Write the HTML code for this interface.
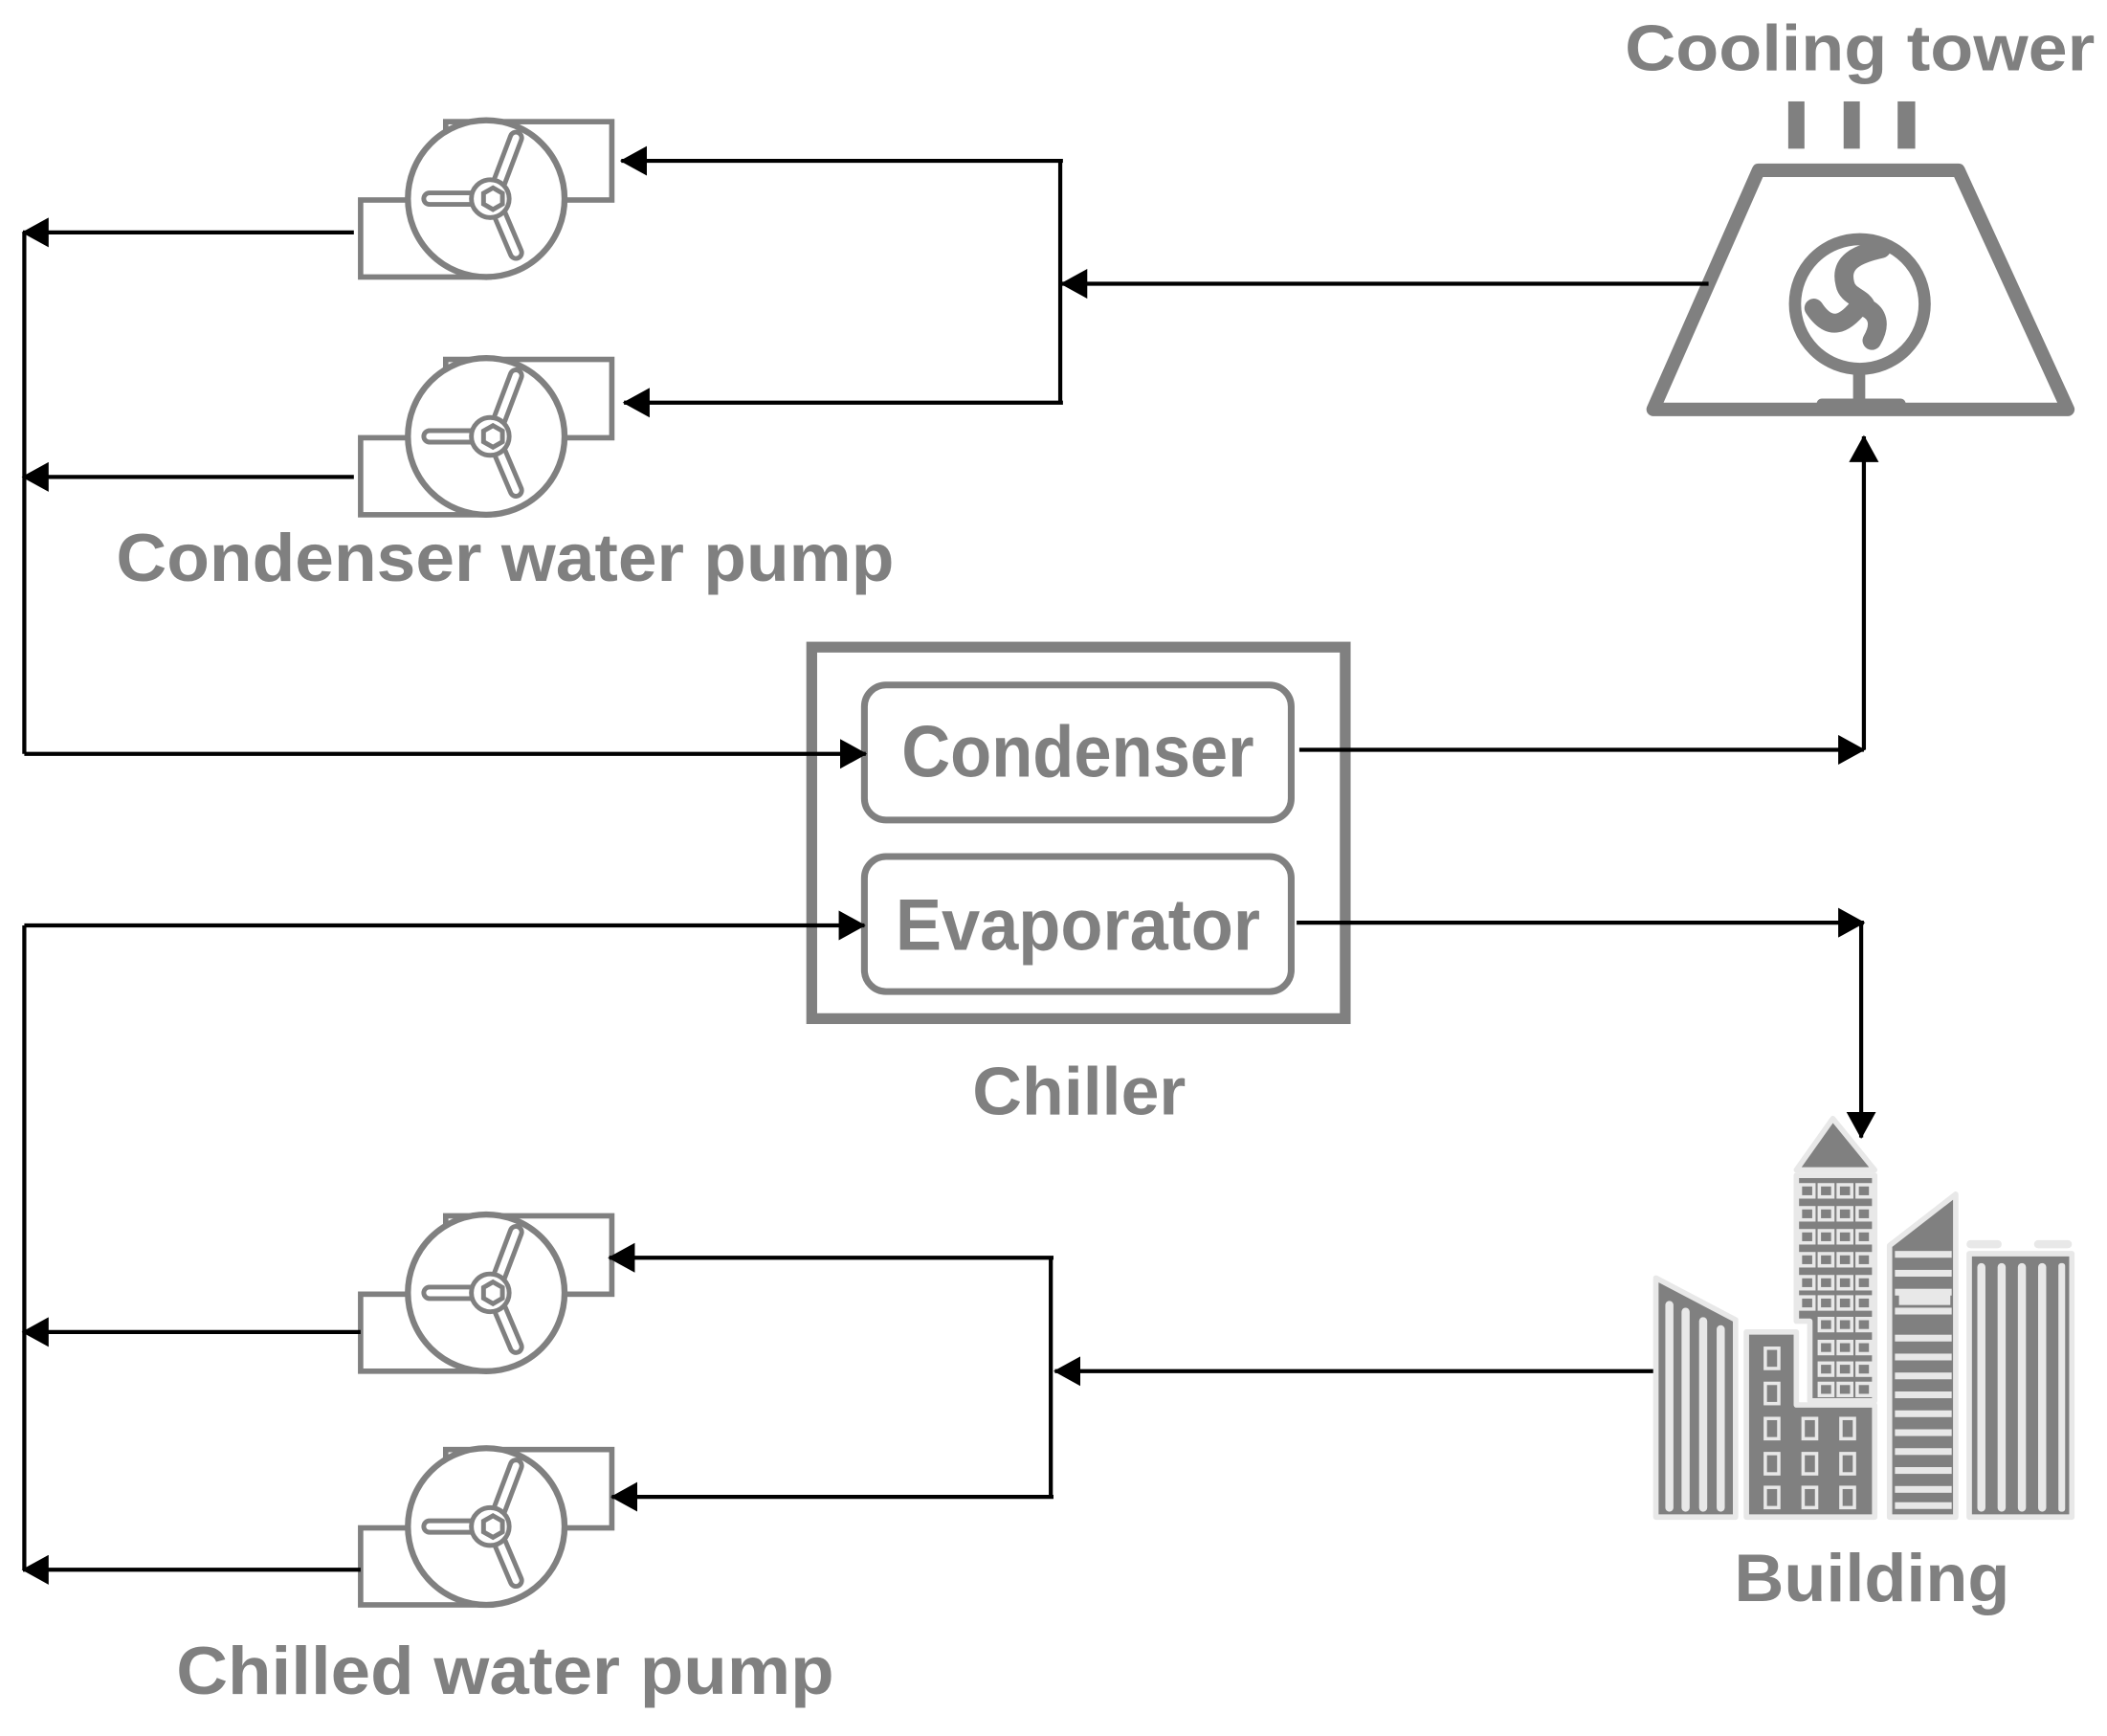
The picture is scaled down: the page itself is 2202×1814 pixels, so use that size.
<!DOCTYPE html>
<html><head><meta charset="utf-8"><style>
html,body{margin:0;padding:0;background:#fff;}
svg{display:block;}
text{font-family:"Liberation Sans",sans-serif;font-weight:bold;fill:#808080;}
</style></head><body>
<svg width="2202" height="1814" viewBox="0 0 1560 1285" xmlns="http://www.w3.org/2000/svg">
<defs>
<g id="pump">
  <rect x="330" y="-57" width="123" height="58" fill="#fff" stroke="#808080" stroke-width="4"/>
  <rect x="267" y="1" width="95" height="57" fill="#fff" stroke="#808080" stroke-width="4"/>
  <ellipse cx="360" cy="0" rx="58" ry="58" fill="#fff" stroke="#808080" stroke-width="4.5"/>
  <g stroke-linecap="round">
    <line x1="365" y1="0" x2="382" y2="-45" stroke="#808080" stroke-width="12"/>
    <line x1="365" y1="0" x2="382" y2="-45" stroke="#fff" stroke-width="5"/>
    <line x1="365" y1="0" x2="382" y2="40" stroke="#808080" stroke-width="12"/>
    <line x1="365" y1="0" x2="382" y2="40" stroke="#fff" stroke-width="5"/>
    <line x1="365" y1="0" x2="318" y2="0" stroke="#808080" stroke-width="12"/>
    <line x1="365" y1="0" x2="318" y2="0" stroke="#fff" stroke-width="5"/>
  </g>
  <circle cx="363" cy="0" r="14" fill="#fff" stroke="#808080" stroke-width="3.5"/>
  <polygon points="365,-8 372,-4 372,4 365,8 358,4 358,-4" fill="#fff" stroke="#808080" stroke-width="3.5"/>
</g>
<marker id="ah" viewBox="0 0 20 22" refX="19" refY="11" markerWidth="20" markerHeight="22" markerUnits="userSpaceOnUse" orient="auto">
  <polygon points="0,0 20,11 0,22" fill="#000"/>
</marker>
</defs>

<text x="1377" y="52" font-size="48" text-anchor="middle" textLength="348" lengthAdjust="spacingAndGlyphs">Cooling tower</text>
<text x="374" y="430" font-size="50" text-anchor="middle" textLength="576" lengthAdjust="spacingAndGlyphs">Condenser water pump</text>
<text x="798" y="575" font-size="54" text-anchor="middle" textLength="261" lengthAdjust="spacingAndGlyphs">Condenser</text>
<text x="798" y="703" font-size="54" text-anchor="middle" textLength="270" lengthAdjust="spacingAndGlyphs">Evaporator</text>
<text x="799" y="825" font-size="50" text-anchor="middle" textLength="158" lengthAdjust="spacingAndGlyphs">Chiller</text>
<text x="374" y="1254" font-size="50" text-anchor="middle" textLength="487" lengthAdjust="spacingAndGlyphs">Chilled water pump</text>
<text x="1386" y="1185" font-size="50" text-anchor="middle" textLength="204" lengthAdjust="spacingAndGlyphs">Building</text>

<rect x="1324" y="75" width="12" height="35" fill="#808080"/>
<rect x="1365" y="75" width="12" height="35" fill="#808080"/>
<rect x="1405" y="75" width="13" height="35" fill="#808080"/>
<polygon points="1302,126 1450,126 1531,303 1224,303" fill="none" stroke="#808080" stroke-width="10" stroke-linejoin="round"/>
<circle cx="1377" cy="225" r="48" fill="none" stroke="#808080" stroke-width="9"/>
<path d="M1393,184 C1375,188 1362,194 1366,210 C1368,220 1380,220 1382,228 C1390,232 1393,240 1386,252 M1343,228 C1355,246 1366,240 1377,226" fill="none" stroke="#808080" stroke-width="14" stroke-linecap="round"/>
<rect x="1372" y="273" width="9" height="25" fill="#808080"/>
<rect x="1345" y="295" width="66" height="8" rx="4" fill="#808080"/>

<use href="#pump" transform="translate(0,147)"/>
<use href="#pump" transform="translate(0,323)"/>
<use href="#pump" transform="translate(0,957)"/>
<use href="#pump" transform="translate(0,1130)"/>

<rect x="601" y="479" width="395" height="275" fill="none" stroke="#808080" stroke-width="8"/>
<rect x="640" y="507" width="316" height="100" rx="16" fill="none" stroke="#808080" stroke-width="5"/>
<rect x="640" y="634" width="316" height="100" rx="16" fill="none" stroke="#808080" stroke-width="5"/>

<g stroke="#000" stroke-width="3" fill="none">
  <line x1="1265" y1="210" x2="786" y2="210" marker-end="url(#ah)"/>
  <line x1="785" y1="120" x2="785" y2="298"/>
  <line x1="787" y1="119" x2="460" y2="119" marker-end="url(#ah)"/>
  <line x1="787" y1="298" x2="462" y2="298" marker-end="url(#ah)"/>
  <line x1="262" y1="172" x2="17" y2="172" marker-end="url(#ah)"/>
  <line x1="262" y1="353" x2="17" y2="353" marker-end="url(#ah)"/>
  <line x1="18" y1="172" x2="18" y2="558"/>
  <line x1="18" y1="558" x2="641" y2="558" marker-end="url(#ah)"/>
  <line x1="962" y1="555" x2="1380" y2="555" marker-end="url(#ah)"/>
  <line x1="1380" y1="555" x2="1380" y2="323" marker-end="url(#ah)"/>
  <line x1="960" y1="683" x2="1380" y2="683" marker-end="url(#ah)"/>
  <line x1="1378" y1="683" x2="1378" y2="842" marker-end="url(#ah)"/>
  <line x1="18" y1="685" x2="640" y2="685" marker-end="url(#ah)"/>
  <line x1="18" y1="685" x2="18" y2="1162"/>
  <line x1="267" y1="986" x2="17" y2="986" marker-end="url(#ah)"/>
  <line x1="267" y1="1162" x2="17" y2="1162" marker-end="url(#ah)"/>
  <line x1="1225" y1="1015" x2="781" y2="1015" marker-end="url(#ah)"/>
  <line x1="778" y1="931" x2="778" y2="1108"/>
  <line x1="780" y1="931" x2="451" y2="931" marker-end="url(#ah)"/>
  <line x1="780" y1="1108" x2="453" y2="1108" marker-end="url(#ah)"/>
</g>

<g stroke="#e8e8e8" stroke-width="4" fill="#808080" stroke-linejoin="round">
  <polygon points="1226,946 1285,977 1285,1123 1226,1123"/>
  <polygon points="1293,986 1330,986 1330,1040 1388,1040 1388,1123 1293,1123"/>
  <polygon points="1330,870 1388,870 1388,1037 1340,1037 1340,978 1330,978"/>
  <polygon points="1357,828 1388,866 1330,866"/>
  <polygon points="1399,922 1448,884 1448,1123 1399,1123"/>
  <polygon points="1458,928 1534,928 1534,1123 1458,1123"/>
</g>
<g fill="#e8e8e8">
  <rect x="1233" y="963" width="6" height="156" rx="3"/>
  <rect x="1245" y="968" width="6" height="151" rx="3"/>
  <rect x="1258" y="975" width="6" height="144" rx="3"/>
  <rect x="1271" y="981" width="6" height="138" rx="3"/>
  <rect x="1464" y="935" width="6" height="184" rx="3"/>
  <rect x="1479" y="935" width="6" height="184" rx="3"/>
  <rect x="1494" y="935" width="6" height="184" rx="3"/>
  <rect x="1509" y="935" width="6" height="184" rx="3"/>
  <rect x="1524" y="935" width="5" height="184" rx="2"/>
  <rect x="1456" y="918" width="26" height="6" rx="3"/>
  <rect x="1506" y="918" width="28" height="6" rx="3"/>
</g>
<g fill="#e8e8e8">
  <rect x="1403" y="926" width="42" height="5"/><rect x="1403" y="940" width="42" height="5"/>
  <rect x="1403" y="954" width="42" height="5"/><rect x="1403" y="968" width="42" height="5"/>
  <rect x="1406" y="956" width="38" height="10"/>
  <rect x="1403" y="988" width="42" height="5"/><rect x="1403" y="1002" width="42" height="5"/>
  <rect x="1403" y="1016" width="42" height="5"/><rect x="1403" y="1030" width="42" height="5"/>
  <rect x="1403" y="1044" width="42" height="5"/><rect x="1403" y="1058" width="42" height="5"/>
  <rect x="1403" y="1072" width="42" height="5"/><rect x="1403" y="1086" width="42" height="5"/>
  <rect x="1403" y="1100" width="42" height="5"/><rect x="1403" y="1112" width="42" height="5"/>
</g>
<g fill="none" stroke="#e8e8e8" stroke-width="2.5">
  <rect x="1333" y="877" width="10" height="9"/><rect x="1347" y="877" width="10" height="9"/><rect x="1361" y="877" width="10" height="9"/><rect x="1375" y="877" width="10" height="9"/>
  <rect x="1333" y="894" width="10" height="9"/><rect x="1347" y="894" width="10" height="9"/><rect x="1361" y="894" width="10" height="9"/><rect x="1375" y="894" width="10" height="9"/>
  <rect x="1333" y="911" width="10" height="9"/><rect x="1347" y="911" width="10" height="9"/><rect x="1361" y="911" width="10" height="9"/><rect x="1375" y="911" width="10" height="9"/>
  <rect x="1333" y="928" width="10" height="9"/><rect x="1347" y="928" width="10" height="9"/><rect x="1361" y="928" width="10" height="9"/><rect x="1375" y="928" width="10" height="9"/>
  <rect x="1333" y="945" width="10" height="9"/><rect x="1347" y="945" width="10" height="9"/><rect x="1361" y="945" width="10" height="9"/><rect x="1375" y="945" width="10" height="9"/>
  <rect x="1333" y="960" width="10" height="9"/><rect x="1347" y="960" width="10" height="9"/><rect x="1361" y="960" width="10" height="9"/><rect x="1375" y="960" width="10" height="9"/>
  <rect x="1347" y="976" width="10" height="9"/><rect x="1361" y="976" width="10" height="9"/><rect x="1375" y="976" width="10" height="9"/>
  <rect x="1347" y="993" width="10" height="9"/><rect x="1361" y="993" width="10" height="9"/><rect x="1375" y="993" width="10" height="9"/>
  <rect x="1347" y="1009" width="10" height="9"/><rect x="1361" y="1009" width="10" height="9"/><rect x="1375" y="1009" width="10" height="9"/>
  <rect x="1347" y="1024" width="10" height="9"/><rect x="1361" y="1024" width="10" height="9"/><rect x="1375" y="1024" width="10" height="9"/>
  <rect x="1307" y="998" width="10" height="15"/><rect x="1307" y="1024" width="10" height="15"/>
  <rect x="1307" y="1050" width="10" height="15"/><rect x="1335" y="1050" width="10" height="15"/><rect x="1363" y="1050" width="10" height="15"/>
  <rect x="1307" y="1076" width="10" height="15"/><rect x="1335" y="1076" width="10" height="15"/><rect x="1363" y="1076" width="10" height="15"/>
  <rect x="1307" y="1101" width="10" height="15"/><rect x="1335" y="1101" width="10" height="15"/><rect x="1363" y="1101" width="10" height="15"/>
</g>
</svg>
</body></html>
